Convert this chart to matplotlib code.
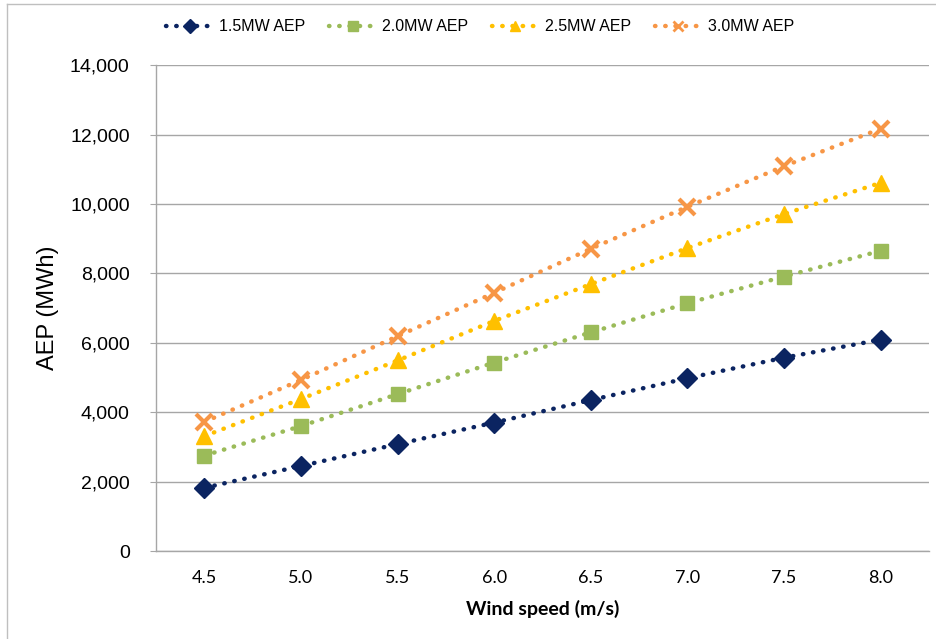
import matplotlib
matplotlib.use("Agg")
import matplotlib.pyplot as plt
from matplotlib.lines import Line2D

# wind speed categories and AEP (MWh)
wind_speed = ["4.5", "5.0", "5.5", "6.0", "6.5", "7.0", "7.5", "8.0"]
aep_15 = [1820, 2450, 3080, 3700, 4350, 4980, 5570, 6090]
aep_20 = [2750, 3600, 4520, 5430, 6300, 7140, 7910, 8650]
aep_25 = [3310, 4380, 5490, 6630, 7690, 8730, 9710, 10610]
aep_30 = [3720, 4930, 6190, 7440, 8710, 9920, 11090, 12170]

labels = ["1.5MW AEP", "2.0MW AEP", "2.5MW AEP", "3.0MW AEP"]
colors = ["#0B2461", "#9BBB59", "#FFC000", "#F79646"]
markers = ["D", "s", "^", "x"]
msizes = [10, 10, 11, 11]

fig = plt.figure(figsize=(9.36, 6.39), dpi=100)
ax = fig.add_axes([0.1667, 0.1377, 0.8258, 0.7603])

x = list(range(len(wind_speed)))
series = [aep_15, aep_20, aep_25, aep_30]
handles = []
for vals, lab, c, m, ms in zip(series, labels, colors, markers, msizes):
    ax.plot(x, vals, color=c, linewidth=3.2, linestyle=(0, (0.1, 2.2)),
            dash_capstyle="round", zorder=3)
    ax.plot(x, vals, linestyle="none", marker=m, markersize=ms, color=c,
            markeredgewidth=3 if m == "x" else 1, zorder=4)
    handles.append(Line2D([], [], color=c, linewidth=3.2,
                          linestyle=(0, (0.1, 2.2)), dash_capstyle="round",
                          marker=m, markersize=7,
                          markeredgewidth=2 if m == "x" else 1))

ax.set_xlim(-0.5, len(wind_speed) - 0.5)
ax.set_ylim(0, 14000)
ax.set_yticks(range(0, 14001, 2000))
ax.set_yticklabels([f"{v:,}" for v in range(0, 14001, 2000)],
                   fontsize=14, family="Liberation Sans")
ax.set_xticks(x)
ax.set_xticklabels(wind_speed, fontsize=13, family="Lato")
ax.tick_params(axis="x", length=0, pad=14)
ax.tick_params(axis="y", length=4, color="#A6A6A6", pad=15)

ax.grid(axis="y", color="#A6A6A6", linewidth=1)
ax.set_axisbelow(True)
for s in ["top", "right"]:
    ax.spines[s].set_visible(False)
for s in ["left", "bottom"]:
    ax.spines[s].set_color("#A6A6A6")
    ax.spines[s].set_linewidth(1)

ax.set_xlabel("Wind speed (m/s)", fontsize=14, fontweight="bold",
              family="Lato", labelpad=10)
ax.set_ylabel("AEP (MWh)", fontsize=17, family="Liberation Sans", labelpad=8)

fig.legend(handles=handles, labels=labels, loc="center",
           bbox_to_anchor=(0.513, 0.958), ncol=4, frameon=False,
           prop={"family": "Liberation Sans", "size": 11.5},
           handlelength=2.9, columnspacing=1.5, handletextpad=0.4)

# outer chart border (left and top visible)
fig.add_artist(Line2D([7 / 936, 7 / 936], [0, 1 - 4 / 639],
                      color="#BFBFBF", linewidth=1, transform=fig.transFigure))
fig.add_artist(Line2D([7 / 936, 1], [1 - 4 / 639, 1 - 4 / 639],
                      color="#BFBFBF", linewidth=1, transform=fig.transFigure))

fig.savefig("out.png", dpi=100)
